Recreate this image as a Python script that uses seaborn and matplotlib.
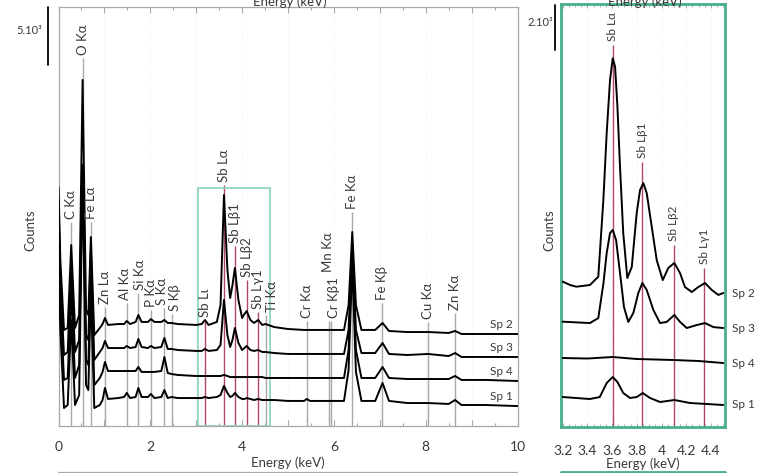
import matplotlib
matplotlib.use("Agg")
import numpy as np
import pandas as pd
import matplotlib.pyplot as plt
import seaborn as sns
from matplotlib.lines import Line2D
from matplotlib.patches import Rectangle
from matplotlib.ticker import MultipleLocator, FuncFormatter

sns.set_theme(style="white")
plt.rcParams['font.family'] = ['Lato', 'DejaVu Sans']

# ---------------- data: full spectra (stacked counts) ----------------
energy_keV = [0.00, 0.04, 0.12, 0.20, 0.277, 0.36, 0.45, 0.525, 0.60, 0.65,
              0.705, 0.78, 0.90, 0.96, 1.012, 1.08, 1.30, 1.43, 1.487, 1.56,
              1.68, 1.74, 1.81, 1.95, 2.013, 2.09, 2.24, 2.307, 2.38, 2.46,
              2.60, 3.00, 3.12, 3.19, 3.27, 3.45, 3.53, 3.605, 3.68, 3.74,
              3.79, 3.843, 3.92, 4.00, 4.05, 4.10, 4.18, 4.26, 4.35, 4.44,
              4.51, 4.70, 5.00, 5.35, 5.41, 5.48, 5.90, 6.22, 6.32, 6.40,
              6.48, 6.60, 6.90, 7.06, 7.20, 7.60, 8.05, 8.50, 8.64, 8.78,
              9.30, 10.00]

sp1_counts = [14310, 8280, 1550, 1810, 9140, 1810, 2670, 21640, 3530, 3100,
              11720, 1550, 1810, 2240, 3280, 2330, 2410, 2500, 2850, 2410,
              2500, 3280, 2500, 2500, 2760, 2410, 2500, 3100, 2410, 2500,
              2410, 2410, 2410, 2500, 2410, 2500, 2670, 3450, 2850, 2500,
              2590, 2850, 2500, 2330, 2330, 2410, 2330, 2240, 2330, 2240,
              2240, 2240, 2160, 2160, 2330, 2160, 2160, 2160, 4830, 14140,
              4660, 2160, 2160, 3710, 2160, 1980, 1980, 1900, 2240, 1810,
              1810, 1720]
sp4_counts = [16900, 10860, 3970, 4140, 11720, 4140, 5260, 22070, 5690, 5260,
              13880, 3530, 4140, 4660, 5520, 4740, 4740, 4740, 4740, 4740,
              4740, 5090, 4660, 4660, 4660, 4660, 4740, 5950, 4570, 4480,
              4400, 4310, 4310, 4310, 4310, 4310, 4310, 4400, 4310, 4220,
              4220, 4220, 4220, 4220, 4220, 4220, 4220, 4220, 4220, 4220,
              4140, 4140, 4140, 4140, 4140, 4140, 4140, 4140, 6550, 15000,
              6550, 4140, 4140, 5090, 4140, 4050, 4050, 4050, 4310, 3970,
              3970, 3880]
sp3_counts = [19480, 12590, 6120, 6380, 13880, 6380, 7410, 22500, 7840, 7410,
              15170, 5690, 6380, 6720, 7330, 6720, 6720, 6720, 6900, 6720,
              6810, 7500, 6810, 6720, 6900, 6720, 6810, 7590, 6640, 6640,
              6550, 6470, 6470, 6640, 6470, 6550, 6980, 10860, 7840, 6810,
              7410, 8450, 7160, 6550, 6720, 6900, 6550, 6470, 6550, 6380,
              6380, 6290, 6210, 6210, 6210, 6210, 6210, 6210, 8280, 15600,
              8280, 6290, 6290, 7160, 6210, 6120, 6210, 6030, 6290, 5950,
              5950, 5950]
sp2_counts = [20600, 14310, 8280, 8450, 15600, 8450, 9570, 29830, 10000, 9570,
              16290, 7840, 8450, 8790, 9310, 8710, 8790, 8790, 9050, 8790,
              8970, 9570, 8970, 8970, 9220, 8970, 8970, 9140, 8880, 8880,
              8790, 8710, 8790, 9140, 8710, 8970, 10430, 19910, 13450, 11030,
              12150, 13620, 10860, 9310, 9650, 9910, 9140, 8880, 9140, 8710,
              8790, 8530, 8360, 8280, 8280, 8280, 8280, 8280, 10430, 16720,
              10430, 8280, 8280, 8880, 8190, 8100, 8100, 8020, 8190, 7930,
              7930, 7930]

spectra_names = ["Sp 1", "Sp 4", "Sp 3", "Sp 2"]

# peak markers (left panel)
peak_names = ["C Kα", "O Kα", "Fe Lα", "Zn Lα", "Al Kα", "Si Kα", "P Kα",
              "S Kα", "S Kβ", "Sb Lι", "Sb Lα", "Sb Lβ1", "Sb Lβ2", "Sb Lγ1",
              "Ti Kα", "Cr Kα", "Mn Kα", "Cr Kβ1", "Fe Kα", "Fe Kβ", "Cu Kα",
              "Zn Kα"]
peak_energies = [0.277, 0.525, 0.705, 1.012, 1.487, 1.740, 2.013, 2.307,
                 2.464, 3.189, 3.605, 3.843, 4.100, 4.347, 4.511, 5.415,
                 5.899, 5.947, 6.404, 7.058, 8.048, 8.639]
peak_line_tops = [17590, 31720, 17590, 10260, 10600, 11470, 10000, 10170,
                  9650, 9140, 20770, 15520, 12590, 9830, 9570, 9050,
                  9050, 9050, 18450, 10600, 8970, 9740]
peak_label_base = [17590, 31720, 17590, 10260, 10600, 11470, 10000, 10170,
                   9650, 9140, 20770, 15520, 12590, 9830, 9570, 9050,
                   13020, 9050, 18450, 10600, 8970, 9740]

# ---------------- data: zoomed Sb L region (right panel) ----------------
zoom_sp2_E = [3.20, 3.26, 3.31, 3.42, 3.488, 3.529, 3.556, 3.583, 3.605, 3.624,
              3.643, 3.664, 3.69, 3.723, 3.759, 3.799, 3.826, 3.853, 3.88,
              3.921, 3.961, 4.01, 4.055, 4.104, 4.15, 4.19, 4.245, 4.298,
              4.352, 4.407, 4.46, 4.50]
zoom_sp2_counts = [6460, 6310, 6235, 6310, 6680, 10090, 13065, 15420, 16385,
                   16010, 14220, 11550, 8620, 6620, 7110, 9510, 10530, 10840,
                   10400, 8890, 7420, 6530, 7070, 7290, 6840, 6220, 6000,
                   6220, 6400, 6090, 5870, 5955]
zoom_sp3_E = [3.20, 3.42, 3.488, 3.53, 3.556, 3.583, 3.605, 3.632, 3.664,
              3.696, 3.731, 3.772, 3.812, 3.845, 3.88, 3.934, 3.988, 4.042,
              4.104, 4.15, 4.204, 4.285, 4.352, 4.42, 4.50]
zoom_sp3_counts = [4680, 4620, 4840, 6400, 7730, 8620, 8755, 8310, 6840, 5330,
                   4670, 5070, 5955, 6400, 6090, 5200, 4620, 4670, 4980, 4670,
                   4400, 4530, 4620, 4440, 4400]
zoom_sp4_E = [3.20, 3.40, 3.605, 3.80, 4.10, 4.30, 4.50]
zoom_sp4_counts = [3066, 3044, 3111, 3022, 2977, 2933, 2844]
zoom_sp1_E = [3.20, 3.42, 3.50, 3.556, 3.605, 3.643, 3.69, 3.745, 3.80, 3.848,
              3.907, 3.988, 4.104, 4.23, 4.50]
zoom_sp1_counts = [1333, 1244, 1333, 1955, 2222, 2000, 1511, 1289, 1333, 1511,
                   1289, 1111, 1200, 1067, 978]

zoom_peak_names = ["Sb Lα", "Sb Lβ1", "Sb Lβ2", "Sb Lγ1"]
zoom_peak_energies = [3.605, 3.843, 4.100, 4.347]
zoom_peak_tops = [16976, 11777, 8088, 7066]

# ---------------- styling ----------------
W, H = 758, 473
TXT = "#3a3a3a"
GRAY = "#a8a8a8"
SBRED = "#b0485f"
GREEN = "#45b08a"
BOXGREEN = "#8fd6c3"
# small horizontal nudges (points) for crowded peak labels
label_nudge = {"S Kα": -1.8, "S Kβ": 2.2, "Ti Kα": 4.5, "Cr Kβ1": 1.8,
               "Mn Kα": -0.8, "Al Kα": -1.0, "Si Kα": 1.0}

fig = plt.figure(figsize=(W / 100, H / 100), dpi=100)
axL = fig.add_axes([58.5 / W, (H - 426) / H, 459 / W, 419 / H])
axR = fig.add_axes([561 / W, (H - 427) / H, 164 / W, 423 / H])

# ---------- left panel ----------
df = pd.concat([
    pd.DataFrame({"energy": energy_keV, "counts": c, "spectrum": n})
    for n, c in zip(spectra_names, [sp1_counts, sp4_counts, sp3_counts, sp2_counts])
])
sns.lineplot(data=df, x="energy", y="counts", hue="spectrum",
             palette={n: "black" for n in spectra_names}, estimator=None,
             legend=False, lw=1.4, ax=axL, zorder=3)

for name, e, top, base in zip(peak_names, peak_energies, peak_line_tops, peak_label_base):
    col = SBRED if name.startswith("Sb") else GRAY
    axL.vlines(e, 0, top, colors=col, lw=1.0, zorder=2)
    axL.annotate(name, xy=(e, base), xytext=(label_nudge.get(name, 0), 2),
                 textcoords="offset points", rotation=90, ha="center",
                 va="bottom", fontsize=9.5, color=TXT)

axL.add_patch(Rectangle((3.03, 0), 1.58, 20520, fill=False, ec=BOXGREEN, lw=1.3, zorder=2))

for n, c in zip(spectra_names, [sp1_counts, sp4_counts, sp3_counts, sp2_counts]):
    axL.annotate(n, xy=(9.9, c[-1]), xytext=(0, 3), textcoords="offset points",
                 ha="right", va="bottom", fontsize=8.5, color=TXT)

axL.set_xlim(0, 10)
axL.set_ylim(0, 36118)
axL.xaxis.set_major_locator(MultipleLocator(1))
axL.xaxis.set_minor_locator(MultipleLocator(0.5))
axL.xaxis.set_major_formatter(FuncFormatter(lambda v, p: f"{int(round(v))}" if int(round(v)) % 2 == 0 else ""))
axL.set_yticks([])
axL.grid(axis="x", which="major", color="#e4e4e4", lw=0.6, ls=(0, (1, 3)))
axL.tick_params(axis="x", which="both", direction="in", top=True, bottom=True,
                color=GRAY, labelsize=10, labelcolor=TXT, length=4, width=0.8, pad=11)
axL.tick_params(axis="x", which="minor", length=2.5)
for s in axL.spines.values():
    s.set_color(GRAY)
    s.set_linewidth(0.9)
axL.set_xlabel("Energy (keV)", fontsize=9.5, color=TXT, labelpad=2)
axL.set_ylabel("")
fig.text(30 / W, 1 - 230 / H, "Counts", rotation=90, ha="center", va="center", fontsize=9.5, color=TXT)

# scale bar 5.10^3
axL.plot([-0.229, -0.229], [31118, 36118], color="black", lw=1.3, clip_on=False)
axL.text(-0.36, 34130, "5.10³", ha="right", va="center", fontsize=8, color=TXT)

# ---------- right panel ----------
dfz = pd.concat([
    pd.DataFrame({"energy": e, "counts": c, "spectrum": n})
    for n, e, c in [("Sp 1", zoom_sp1_E, zoom_sp1_counts), ("Sp 4", zoom_sp4_E, zoom_sp4_counts),
                    ("Sp 3", zoom_sp3_E, zoom_sp3_counts), ("Sp 2", zoom_sp2_E, zoom_sp2_counts)]
])
sns.lineplot(data=dfz, x="energy", y="counts", hue="spectrum",
             palette={n: "black" for n in spectra_names}, estimator=None,
             legend=False, lw=1.4, ax=axR, zorder=3)

for name, e, top in zip(zoom_peak_names, zoom_peak_energies, zoom_peak_tops):
    axR.vlines(e, 0, top, colors=SBRED, lw=1.0, zorder=2)
    axR.annotate(name, xy=(e, top), xytext=(0, 3), textcoords="offset points",
                 rotation=90, ha="center", va="bottom", fontsize=8.5, color=TXT)

for n, e, c in [("Sp 2", zoom_sp2_E, zoom_sp2_counts), ("Sp 3", zoom_sp3_E, zoom_sp3_counts),
                ("Sp 4", zoom_sp4_E, zoom_sp4_counts), ("Sp 1", zoom_sp1_E, zoom_sp1_counts)]:
    axR.annotate(n, xy=(4.515, c[-1]), xytext=(5, 0), textcoords="offset points",
                 ha="left", va="center", fontsize=8.5, color=TXT, annotation_clip=False)

axR.set_xlim(3.186, 4.514)
axR.set_ylim(0, 18800)
axR.set_xticks([3.2, 3.4, 3.6, 3.8, 4.0, 4.2, 4.4])
axR.set_xticklabels(["3.2", "3.4", "3.6", "3.8", "4", "4.2", "4.4"])
axR.xaxis.set_minor_locator(MultipleLocator(0.05))
axR.set_yticks([])
axR.grid(axis="x", which="major", color="#e4e4e4", lw=0.6, ls=(0, (1, 3)))
axR.tick_params(axis="x", which="both", direction="in", top=True, bottom=True,
                color=GRAY, labelsize=10, labelcolor=TXT, length=3, width=0.7, pad=13)
axR.tick_params(axis="x", which="minor", length=2)
for s in axR.spines.values():
    s.set_color(GREEN)
    s.set_linewidth(2.0)
axR.set_xlabel("Energy (keV)", fontsize=9.5, color=TXT, labelpad=0)
axR.set_ylabel("")
fig.text(549 / W, 1 - 230 / H, "Counts", rotation=90, ha="center", va="center", fontsize=9.5, color=TXT)

# scale bar 2.10^3
axR.plot([3.138, 3.138], [16754, 18754], color="black", lw=1.3, clip_on=False)
axR.text(3.12, 18000, "2.10³", ha="right", va="center", fontsize=8, color=TXT)

# partial neighbouring panels (cropped figure edges)
fig.text(290 / W, 1 - 2 / H, "Energy (keV)", ha="center", va="center", fontsize=9.5, color=TXT)
fig.text(645 / W, 1 - 2 / H, "Energy (keV)", ha="center", va="center", fontsize=9.5, color=TXT)
fig.add_artist(Line2D([58 / W, 517 / W], [1.5 / H, 1.5 / H], color=GRAY, lw=0.9))
fig.add_artist(Line2D([561 / W, 725 / W], [1.5 / H, 1.5 / H], color=GREEN, lw=2.0))

fig.savefig("out.png", dpi=100)
